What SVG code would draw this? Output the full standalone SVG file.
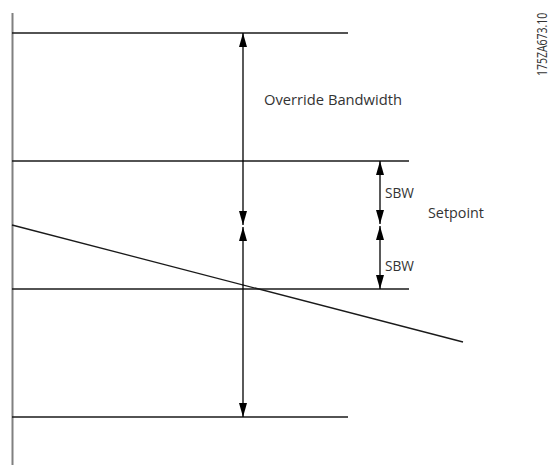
<svg xmlns="http://www.w3.org/2000/svg" width="553" height="476" viewBox="0 0 553 476">
  <style>
    .ln { stroke: #1a1a1a; stroke-width: 1.3; fill: none; }
    .axis { stroke: #808080; stroke-width: 2; fill: none; }
    .dim { stroke: #000; stroke-width: 1.3; fill: none; marker-start: url(#head); marker-end: url(#head); }
    text { font-family: "Open Sans", "Noto Sans", sans-serif; font-size: 14px; fill: #333; }
  </style>
  <defs>
    <marker id="head" viewBox="0 0 14 8" refX="14" refY="4" markerWidth="14" markerHeight="8" markerUnits="userSpaceOnUse" orient="auto-start-reverse">
      <path d="M0,0 L14,4 L0,8 Z" fill="#000"/>
    </marker>
  </defs>

  <g id="axis">
    <line class="axis" x1="12.5" y1="13" x2="12.5" y2="465"/>
  </g>

  <g id="levels">
    <line class="ln" x1="12" y1="33" x2="348" y2="33"/>
    <line class="ln" x1="12" y1="161" x2="409" y2="161"/>
    <line class="ln" x1="12" y1="289" x2="409" y2="289"/>
    <line class="ln" x1="12" y1="417" x2="348" y2="417"/>
  </g>

  <g id="trend">
    <line class="ln" x1="12" y1="225" x2="463" y2="342"/>
  </g>

  <g id="connectors">
    <line class="dim" x1="243" y1="33" x2="243" y2="225"/>
    <line class="dim" x1="243" y1="227" x2="243" y2="417"/>
    <line class="dim" x1="380" y1="161" x2="380" y2="224"/>
    <line class="dim" x1="380" y1="226" x2="380" y2="289"/>
  </g>

  <g id="labels">
    <text x="264" y="105" textLength="138" lengthAdjust="spacingAndGlyphs">Override Bandwidth</text>
    <text x="385" y="198" textLength="29" lengthAdjust="spacingAndGlyphs">SBW</text>
    <text x="385" y="271" textLength="29" lengthAdjust="spacingAndGlyphs">SBW</text>
    <text x="428" y="218" textLength="56" lengthAdjust="spacingAndGlyphs">Setpoint</text>
    <!-- drawing number, set vertically and condensed -->
    <text transform="translate(547,76) rotate(-90) scale(0.75,1)">175ZA673.10</text>
  </g>
</svg>
